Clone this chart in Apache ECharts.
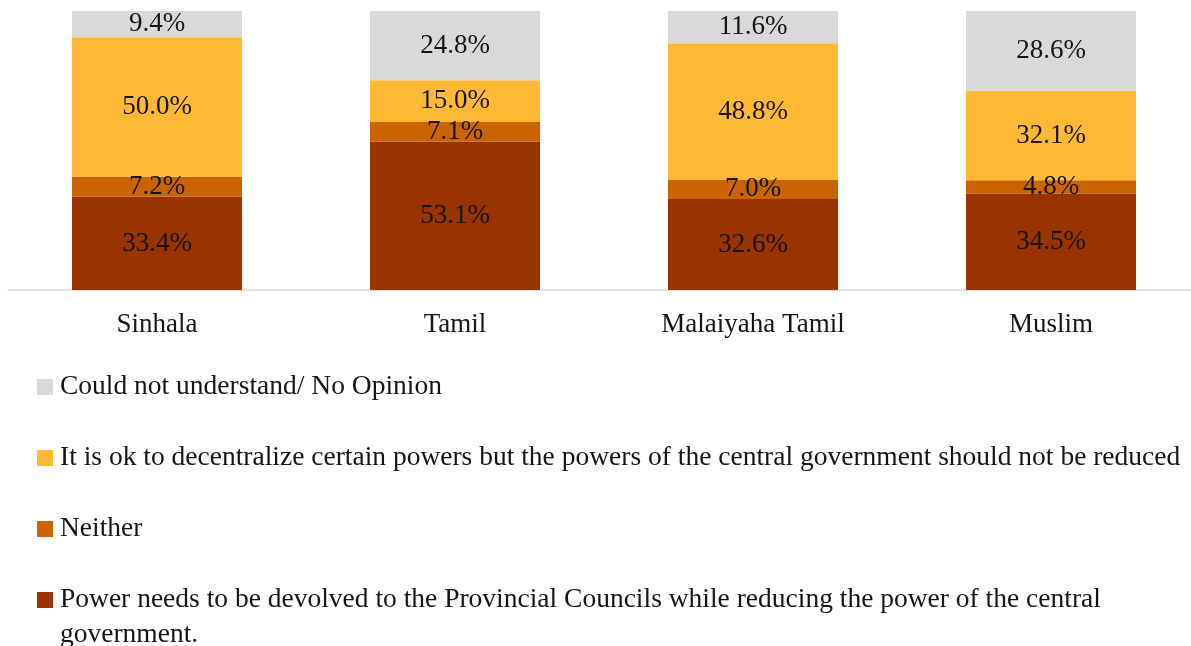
<!DOCTYPE html>
<html>
<head>
<meta charset="utf-8">
<script src="https://cdn.jsdelivr.net/npm/echarts@6/dist/echarts.min.js"></script>
<style>html,body{margin:0;padding:0;background:#fff}#c{width:1191px;height:646px}</style>
</head>
<body>
<div id="c"></div>
<script>
const categories = ['Sinhala', 'Tamil', 'Malaiyaha Tamil', 'Muslim'];
const seriesNames = [
  'Power needs to be devolved to the Provincial Councils while reducing the power of the central government.',
  'Neither',
  'It is ok to decentralize certain powers but the powers of the central government should not be reduced',
  'Could not understand/ No Opinion'
];
const devolve = [33.4, 53.1, 32.6, 34.5];
const neither = [7.2, 7.1, 7.0, 4.8];
const decentralize = [50.0, 15.0, 48.8, 32.1];
const noOpinion = [9.4, 24.8, 11.6, 28.6];
const colors = ['#993300', '#C96400', '#FFB935', '#D9D9D9'];

const FONT = '"Liberation Serif", "DejaVu Serif", serif';
const values = [devolve, neither, decentralize, noOpinion];

const series = values.map((v, i) => ({
  name: seriesNames[i],
  type: 'bar',
  stack: 'total',
  barWidth: 170,
  data: v,
  itemStyle: { color: colors[i] },
  label: {
    show: true,
    position: 'inside',
    formatter: p => p.value.toFixed(1) + '%',
    color: '#151515',
    fontFamily: FONT,
    fontSize: 27
  }
}));

// legend order top to bottom
const legendOrder = [3, 2, 1, 0];
const legendCenters = [387, 458, 529, 600];
const legends = legendOrder.map((si, k) => {
  const last = si === 0;
  return {
    data: [seriesNames[si]],
    orient: 'vertical',
    left: 37,
    top: last ? legendCenters[k] - 8 - 9.5 : legendCenters[k] - 15,
    padding: 0,
    itemWidth: 16,
    itemHeight: last ? 51 : 16,
    icon: last ? 'path://M0,0L16,0L16,16L0,16Z M0,50.99L0.01,51L0,51Z' : 'rect',
    selectedMode: false,
    formatter: name => last ? name.replace(' government.', '\ngovernment.') : name,
    textStyle: {
      fontFamily: FONT,
      fontSize: 27.5,
      color: '#151515',
      lineHeight: last ? 35 : 30,
      padding: [0, 0, 0, 2]
    }
  };
});

const chart = echarts.init(document.getElementById('c'));
chart.setOption({
  animation: false,
  grid: { left: 8, top: 11, right: -9, height: 279, outerBoundsMode: 'none' },
  legend: legends,
  xAxis: {
    type: 'category',
    data: categories,
    axisLine: { lineStyle: { color: '#D9D9D9', width: 1.5 } },
    axisTick: { show: false },
    axisLabel: { fontFamily: FONT, fontSize: 27, color: '#151515', margin: 20, lineHeight: 30 }
  },
  yAxis: { type: 'value', min: 0, max: 100, show: false, splitLine: { show: false } },
  series: series
});
</script>
</body>
</html>
